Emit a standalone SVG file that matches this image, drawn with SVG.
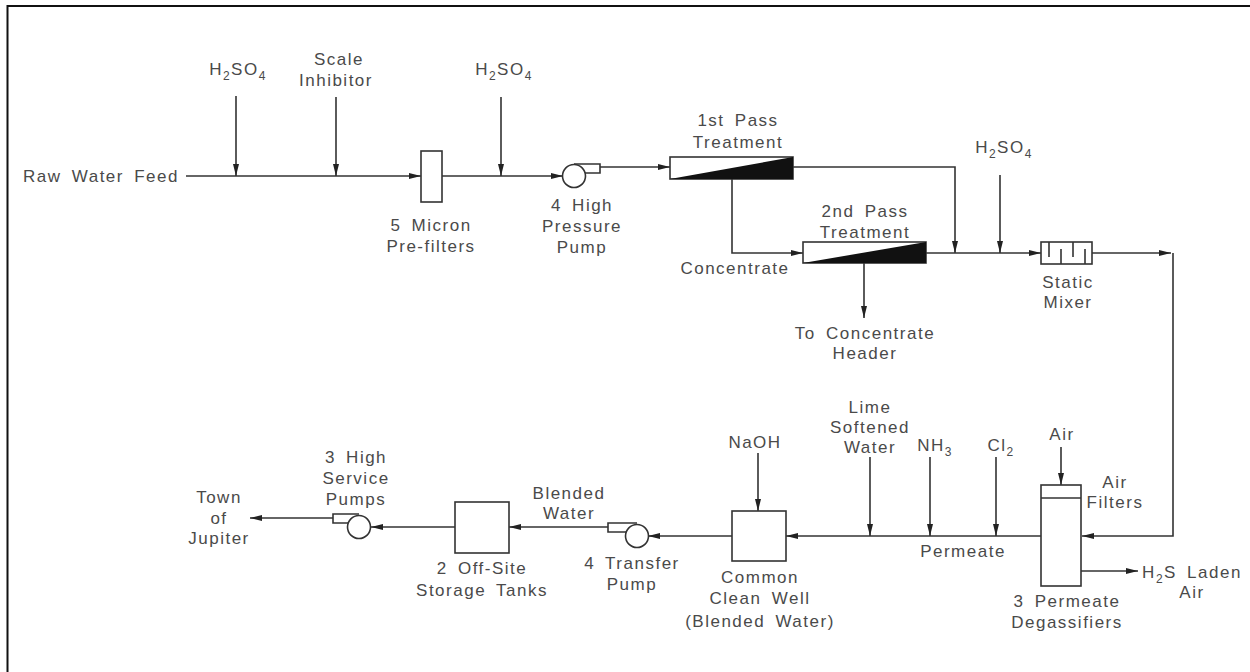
<svg xmlns="http://www.w3.org/2000/svg" width="1250" height="672" viewBox="0 0 1250 672">
<defs>
<marker id="ah" viewBox="0 0 12 8" refX="12" refY="4" markerWidth="12" markerHeight="8" markerUnits="userSpaceOnUse" orient="auto"><path d="M0 1L12 4L0 7Z" fill="#222"/></marker>
</defs>
<style>
text{font-family:"Liberation Sans",Arial,sans-serif;font-size:17px;fill:#4a4a4a;text-anchor:middle;letter-spacing:1.5px;word-spacing:4px}
.s{font-size:12px}
.n{fill:#fff;stroke:#333;stroke-width:1.6}
.c{fill:none;stroke:#333;stroke-width:1.6}
.a{marker-end:url(#ah)}
.k{fill:#111;stroke:none}
</style>
<rect width="1250" height="672" fill="#fff"/>
<path d="M7.5 672V6H1250" fill="none" stroke="#111" stroke-width="2"/>
<g id="connectors">
<path class="c a" d="M186 176H421"/>
<path class="c a" d="M236 96V176"/>
<path class="c a" d="M336 97V176"/>
<path class="c a" d="M442 176H563"/>
<path class="c a" d="M501 97V176"/>
<path class="c a" d="M600 167H670"/>
<path class="c a" d="M793 167H955V253"/>
<path class="c a" d="M732 179V253H803"/>
<path class="c a" d="M926 253H1041"/>
<path class="c a" d="M1000 175V253"/>
<path class="c a" d="M1092 253H1171"/>
<path class="c a" d="M1173 253V536H1082"/>
<path class="c a" d="M864 263V318"/>
<path class="c a" d="M1041 536H786"/>
<path class="c a" d="M870 457V536"/>
<path class="c a" d="M930 457V536"/>
<path class="c a" d="M996 457V536"/>
<path class="c a" d="M1061 447V485"/>
<path class="c a" d="M1081 571H1138"/>
<path class="c a" d="M758 453V511"/>
<path class="c a" d="M732 536H648"/>
<path class="c a" d="M608 527H509"/>
<path class="c a" d="M455 527H371"/>
<path class="c a" d="M333 518H250"/>
</g>
<g id="prefilter"><rect class="n" x="421" y="151" width="21" height="51"/></g>
<g id="hp-pump"><path class="n" d="M574 164H600V173H584"/><circle class="n" cx="574" cy="176" r="11.5"/></g>
<g id="first-pass"><rect class="n" x="670" y="157" width="123" height="22"/><path class="k" d="M670 179L793 157V179Z"/></g>
<g id="second-pass"><rect class="n" x="803" y="242" width="123" height="21"/><path class="k" d="M803 263L926 242V263Z"/></g>
<g id="static-mixer"><rect class="n" x="1041" y="242" width="51" height="22"/><path class="c" d="M1049 242V257M1061 249V264M1073 242V257M1085 249V264"/></g>
<g id="degassifier"><rect class="n" x="1041" y="485" width="40" height="101"/><path class="c" d="M1041 498H1081"/></g>
<g id="clean-well"><rect class="n" x="732" y="511" width="54" height="50"/></g>
<g id="transfer-pump"><path class="n" d="M637 523H608V532H627"/><circle class="n" cx="637" cy="536" r="11.5"/></g>
<g id="storage"><rect class="n" x="455" y="502" width="54" height="51"/></g>
<g id="hs-pump"><path class="n" d="M359 514H333V523H349"/><circle class="n" cx="359" cy="527" r="11.5"/></g>
<g id="labels">
<text x="101" y="182">Raw Water Feed</text>
<text x="238" y="75">H<tspan class="s" dy="5">2</tspan><tspan dy="-5">SO</tspan><tspan class="s" dy="5">4</tspan></text>
<text x="339" y="65">Scale</text><text x="336" y="86">Inhibitor</text>
<text x="504" y="75">H<tspan class="s" dy="5">2</tspan><tspan dy="-5">SO</tspan><tspan class="s" dy="5">4</tspan></text>
<text x="431" y="231">5 Micron</text><text x="431" y="252">Pre-filters</text>
<text x="582" y="211">4 High</text><text x="582" y="232">Pressure</text><text x="582" y="253">Pump</text>
<text x="738" y="126">1st Pass</text><text x="738" y="148">Treatment</text>
<text x="865" y="217">2nd Pass</text><text x="865" y="238">Treatment</text>
<text x="735" y="274">Concentrate</text>
<text x="1004" y="153">H<tspan class="s" dy="5">2</tspan><tspan dy="-5">SO</tspan><tspan class="s" dy="5">4</tspan></text>
<text x="1068" y="288">Static</text><text x="1068" y="308">Mixer</text>
<text x="865" y="339">To Concentrate</text><text x="865" y="359">Header</text>
<text x="870" y="413">Lime</text><text x="870" y="433">Softened</text><text x="870" y="453">Water</text>
<text x="755" y="448">NaOH</text>
<text x="935" y="451">NH<tspan class="s" dy="5">3</tspan></text>
<text x="1001" y="451">Cl<tspan class="s" dy="5">2</tspan></text>
<text x="1062" y="440">Air</text>
<text x="1115" y="488">Air</text><text x="1115" y="508">Filters</text>
<text x="963" y="557">Permeate</text>
<text x="1192" y="578">H<tspan class="s" dy="5">2</tspan><tspan dy="-5">S Laden</tspan></text><text x="1192" y="598">Air</text>
<text x="1067" y="607">3 Permeate</text><text x="1067" y="628">Degassifiers</text>
<text x="760" y="583">Common</text><text x="760" y="604">Clean Well</text><text x="760" y="627">(Blended Water)</text>
<text x="632" y="569">4 Transfer</text><text x="632" y="590">Pump</text>
<text x="482" y="574">2 Off-Site</text><text x="482" y="596">Storage Tanks</text>
<text x="569" y="499">Blended</text><text x="569" y="519">Water</text>
<text x="356" y="463">3 High</text><text x="356" y="484">Service</text><text x="356" y="505">Pumps</text>
<text x="219" y="503">Town</text><text x="219" y="524">of</text><text x="219" y="544">Jupiter</text>
</g>
</svg>
